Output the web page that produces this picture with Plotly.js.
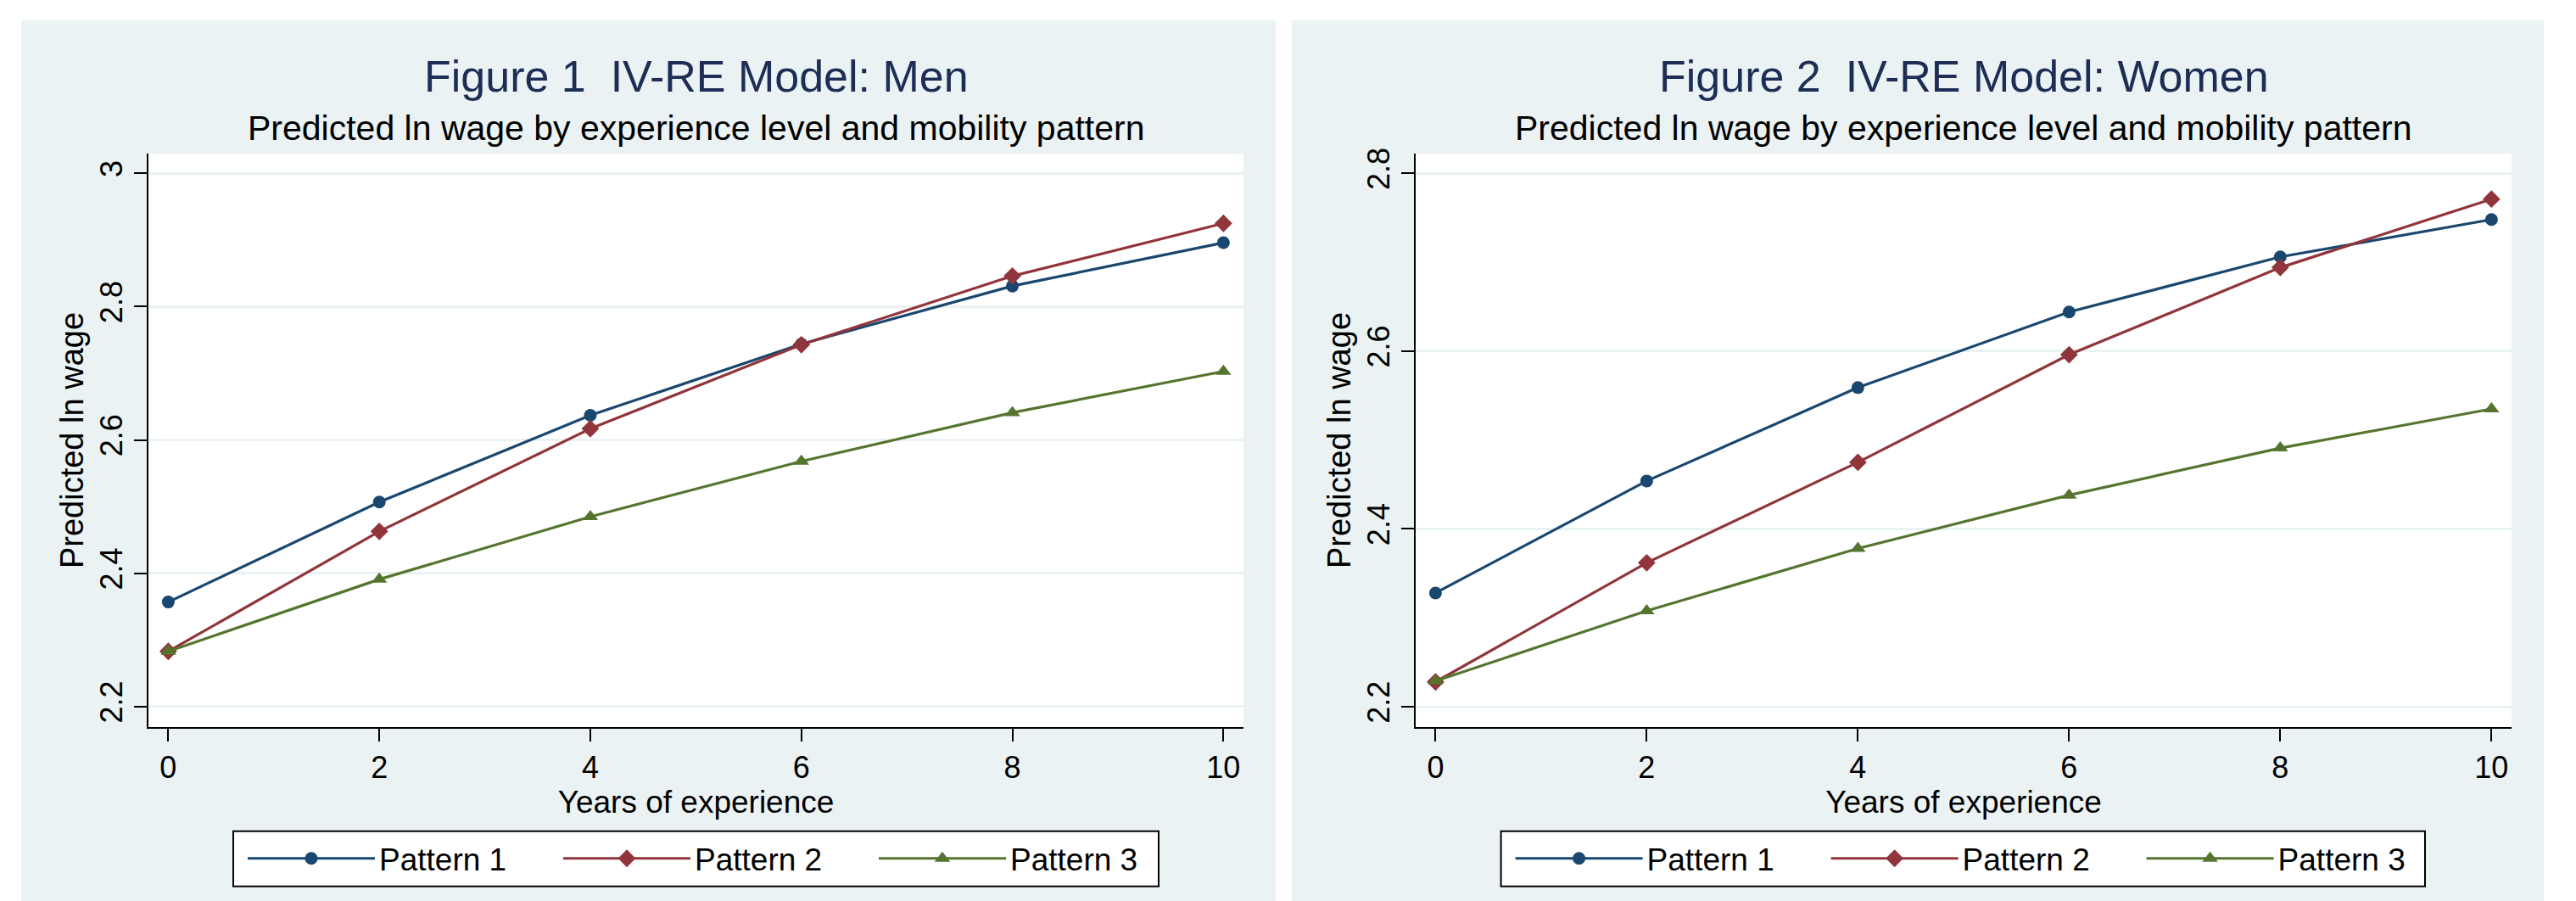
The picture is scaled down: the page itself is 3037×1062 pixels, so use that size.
<!DOCTYPE html>
<html><head><meta charset="utf-8">
<script src="https://cdn.plot.ly/plotly-3.0.1.min.js"></script>
<style>html,body{margin:0;padding:0;background:#fff;} #chart{width:3037px;height:1062px;}</style>
</head><body><div id="chart"></div>
<script>
// ---------- data ----------
const experience = [0, 2, 4, 6, 8, 10];
const seriesNames = ['Pattern 1', 'Pattern 2', 'Pattern 3'];
const menPattern1 = [2.357, 2.507, 2.637, 2.744, 2.831, 2.896];
const menPattern2 = [2.283, 2.463, 2.617, 2.743, 2.846, 2.925];
const menPattern3 = [2.283, 2.391, 2.485, 2.568, 2.641, 2.703];
const womenPattern1 = [2.328, 2.454, 2.559, 2.644, 2.706, 2.748];
const womenPattern2 = [2.228, 2.362, 2.475, 2.596, 2.694, 2.771];
const womenPattern3 = [2.229, 2.308, 2.378, 2.438, 2.491, 2.535];
const xTickValues = [0, 2, 4, 6, 8, 10];
const menYTicks = [2.2, 2.4, 2.6, 2.8, 3];
const menYTickLabels = ['2.2', '2.4', '2.6', '2.8', '3'];
const womenYTicks = [2.2, 2.4, 2.6, 2.8];
const womenYTickLabels = ['2.2', '2.4', '2.6', '2.8'];
const panelTitles = ['Figure 1\u00A0 IV-RE Model: Men', 'Figure 2\u00A0 IV-RE Model: Women'];
const subtitleText = 'Predicted ln wage by experience level and mobility pattern';
const xTitle = 'Years of experience';
const yTitle = 'Predicted ln wage';

// ---------- styling / geometry ----------
const W = 3037, H = 1062;
const FONT = 'Liberation Sans, Arial, Helvetica, sans-serif';
const BG = '#EAF2F3';
const colors = ['#1A476F', '#90353B', '#55752F'];
const symbols = ['circle', 'diamond', 'triangle-up'];
const msizes = [15, 16, 16];
const px = v => v / W;
const py = v => 1 - v / H;

const panels = [
  {x0: 25, x1: 1504, px0: 175, px1: 1466, lg0: 274, lg1: 1367},
  {x0: 1523, x1: 2999, px0: 1669, px1: 2961, lg0: 1768.6, lg1: 2860}
];
const plotTop = 181, plotBot = 857;
const legTop = 978.7, legBot = 1045.7;

const datasets = [[menPattern1, menPattern2, menPattern3], [womenPattern1, womenPattern2, womenPattern3]];
const traces = [];
datasets.forEach((set, p) => {
  set.forEach((vals, i) => {
    traces.push({
      x: experience, y: vals, type: 'scatter', mode: 'lines+markers',
      name: seriesNames[i],
      xaxis: p === 0 ? 'x' : 'x2', yaxis: p === 0 ? 'y' : 'y2',
      legend: p === 0 ? 'legend' : 'legend2',
      line: {color: colors[i], width: 3.2},
      marker: {color: colors[i], symbol: symbols[i], size: msizes[i]}
    });
  });
});

const shapes = [];
const annotations = [];
panels.forEach((P, p) => {
  shapes.push({type: 'rect', xref: 'paper', yref: 'paper', x0: px(P.x0), x1: px(P.x1), y0: 0, y1: py(24),
    fillcolor: BG, line: {width: 0}, layer: 'below'});
  shapes.push({type: 'rect', xref: 'paper', yref: 'paper', x0: px(P.px0), x1: px(P.px1), y0: py(plotBot), y1: py(plotTop),
    fillcolor: '#FFFFFF', line: {width: 0}, layer: 'below'});
  shapes.push({type: 'rect', xref: 'paper', yref: 'paper', x0: px(P.lg0 + 1), x1: px(P.lg1 - 1), y0: py(legBot - 1), y1: py(legTop + 1),
    fillcolor: '#FFFFFF', line: {color: '#000', width: 2}, layer: 'below'});
  const cx = px((P.px0 + P.px1) / 2);
  annotations.push({xref: 'paper', yref: 'paper', x: cx, y: py(90.5), xanchor: 'center', yanchor: 'middle',
    text: panelTitles[p], showarrow: false, font: {family: FONT, size: 52, color: '#1E2D55'}});
  annotations.push({xref: 'paper', yref: 'paper', x: cx, y: py(151), xanchor: 'center', yanchor: 'middle',
    text: subtitleText, showarrow: false, font: {family: FONT, size: 41, color: '#000'}});
});

function xaxisDef(P, anchor) {
  return {
    domain: [px(P.px0), px(P.px1)], anchor: anchor, range: [-0.188, 10.19],
    tickvals: xTickValues, ticktext: xTickValues.map(String),
    ticks: 'outside', ticklen: 15, tickwidth: 2, tickcolor: '#000',
    showline: true, linecolor: '#000', linewidth: 2, showgrid: false, zeroline: false,
    tickfont: {family: FONT, size: 36, color: '#000'},
    title: {text: xTitle, font: {family: FONT, size: 37, color: '#000'}, standoff: 0},
    fixedrange: true
  };
}
function yaxisDef(P, anchor, range, tv, tt) {
  return {
    domain: [py(plotBot), py(plotTop)], anchor: anchor, range: range,
    tickvals: tv, ticktext: tt, tickangle: -90,
    ticks: 'outside', ticklen: 15, tickwidth: 2, tickcolor: '#000',
    showline: true, linecolor: '#000', linewidth: 2,
    showgrid: true, gridcolor: BG, gridwidth: 3, zeroline: false,
    tickfont: {family: FONT, size: 36, color: '#000'},
    title: {text: yTitle, font: {family: FONT, size: 38, color: '#000'}, standoff: 0},
    fixedrange: true
  };
}

function legendDef(P) {
  return {
    orientation: 'h', x: px(P.lg0 + 13), xanchor: 'left', y: py((legTop + legBot) / 2), yanchor: 'middle',
    bgcolor: 'rgba(0,0,0,0)', borderwidth: 0,
    font: {family: FONT, size: 37, color: '#000'},
    itemwidth: 150, entrywidth: 207, entrywidthmode: 'pixels', traceorder: 'normal', itemclick: false, itemdoubleclick: false
  };
}

const layout = {
  width: W, height: H,
  margin: {l: 0, r: 0, t: 0, b: 0, autoexpand: false},
  paper_bgcolor: '#FFFFFF', plot_bgcolor: '#FFFFFF',
  showlegend: true,
  xaxis: xaxisDef(panels[0], 'y'),
  yaxis: yaxisDef(panels[0], 'x', [2.1694, 3.0297], menYTicks, menYTickLabels),
  xaxis2: xaxisDef(panels[1], 'y2'),
  yaxis2: yaxisDef(panels[1], 'x2', [2.1772, 2.8222], womenYTicks, womenYTickLabels),
  legend: legendDef(panels[0]),
  legend2: legendDef(panels[1]),
  shapes: shapes,
  annotations: annotations,
  font: {family: FONT}
};

Plotly.newPlot('chart', traces, layout, {staticPlot: true, displayModeBar: false});
</script>
</body></html>
